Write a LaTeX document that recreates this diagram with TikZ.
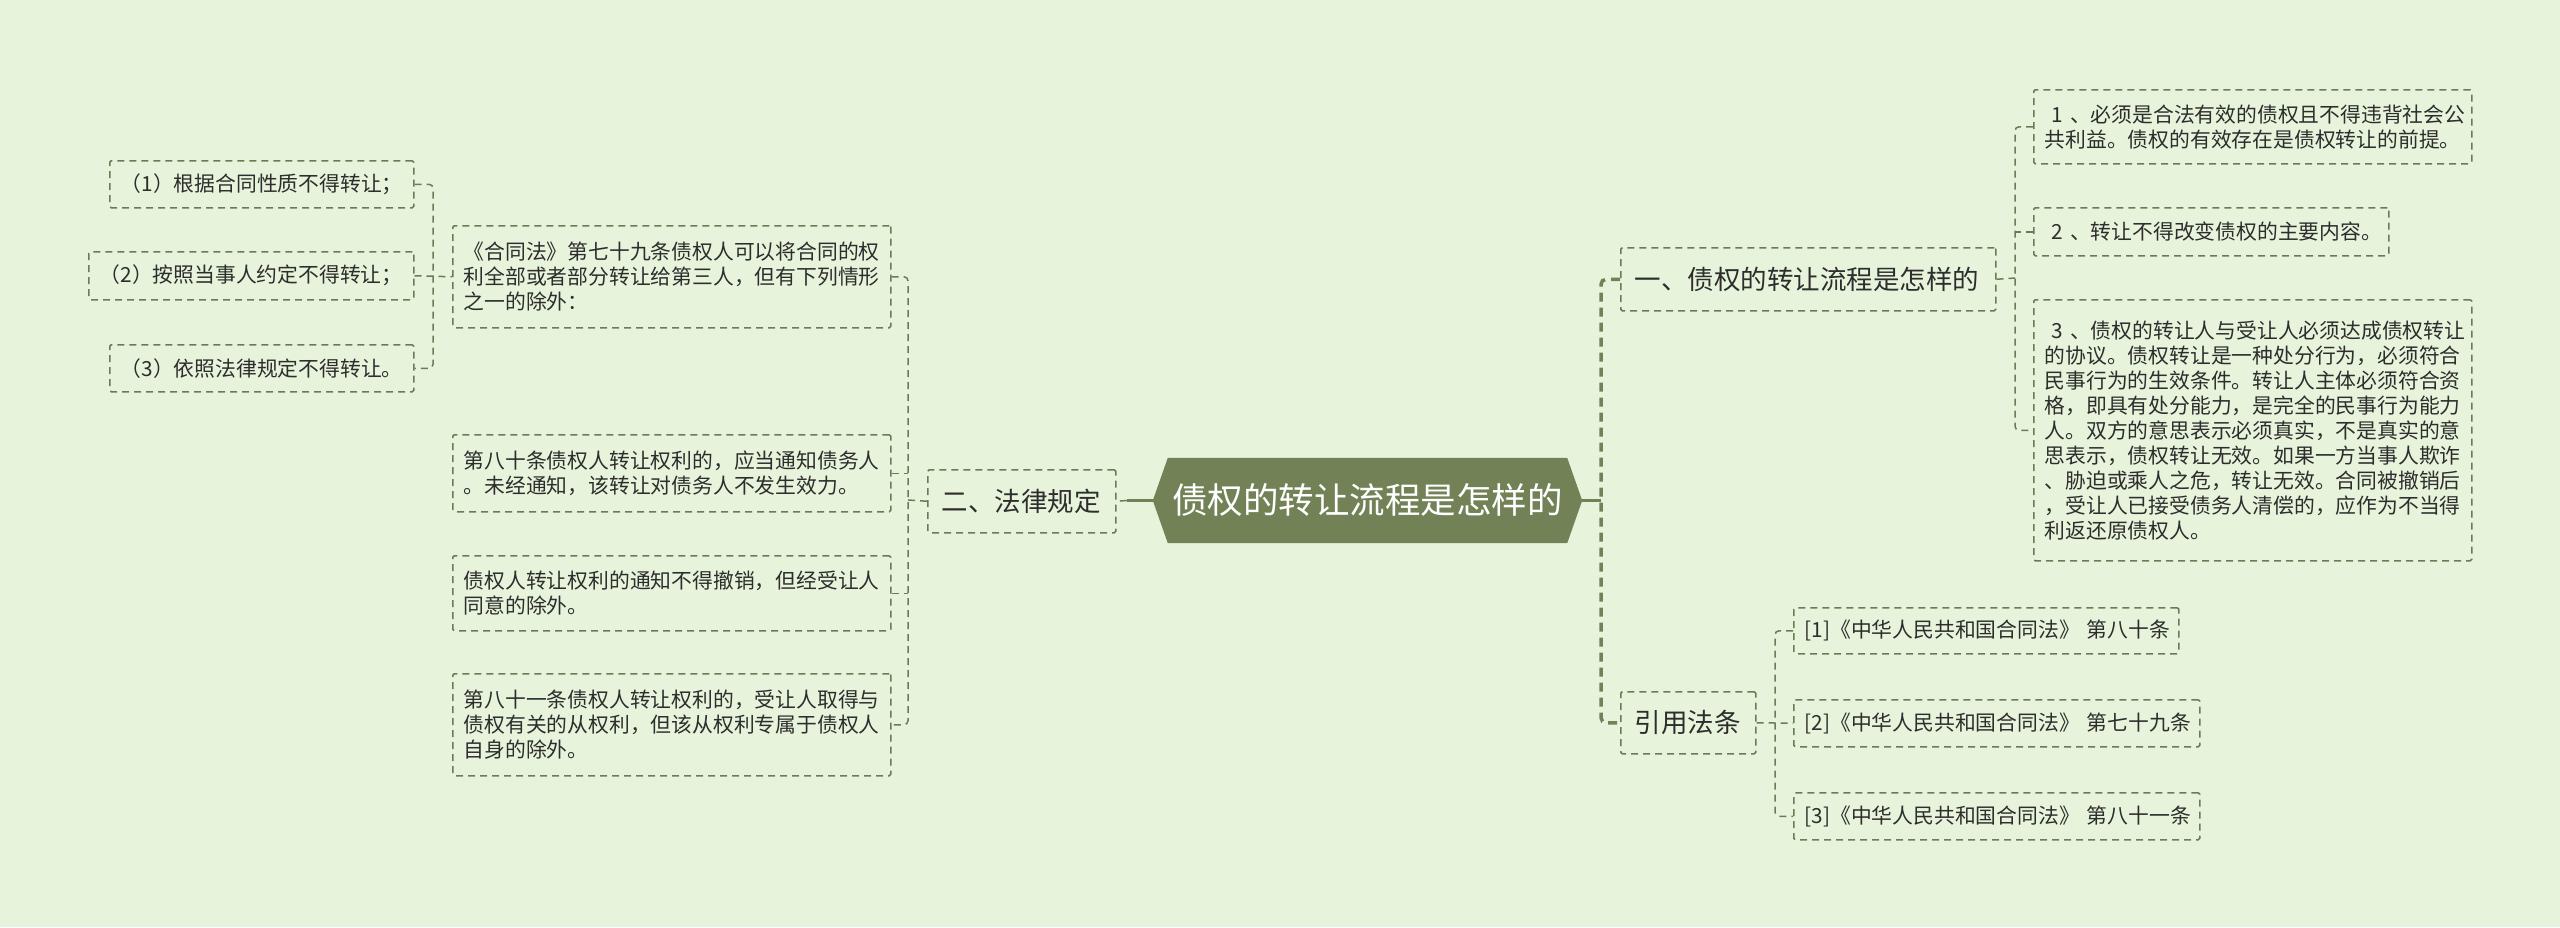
\documentclass[tikz,border=0pt]{standalone}
\usepackage{fontspec}
\newfontfamily\cjk{Noto Sans CJK SC}
\usetikzlibrary{calc}
\definecolor{bg}{HTML}{E7F4DB}
\definecolor{hexc}{HTML}{728256}
\definecolor{linec}{HTML}{6B7B56}
\definecolor{txt}{HTML}{2D2D2D}
\begin{document}
\begin{tikzpicture}[x=1pt,y=-1pt,
 leaf/.style={draw=linec, line width=1.5pt, dash pattern=on 7pt off 5pt, rounded corners=1.5pt, font=\cjk\fontsize{20.8}{25}\selectfont, text=txt, inner xsep=11pt, inner ysep=0pt, align=left, anchor=north west},
 topic/.style={leaf, font=\cjk\fontsize{26.5}{30}\selectfont, inner xsep=14pt},
 conn/.style={draw=linec, line width=1.5pt, dash pattern=on 7pt off 5pt, rounded corners=4pt},
 trunk/.style={draw=hexc, line width=3.5pt, dash pattern=on 9pt off 6pt, rounded corners=5pt},
 solidc/.style={draw=hexc, line width=3pt}
]
\fill[bg] (0,0) rectangle (2560,927);
\useasboundingbox (0,0) rectangle (2560,927);

% left leaves
\node[leaf, text width=282pt, minimum height=47pt] (i1) at (109,160) {（1）根据合同性质不得转让；};
\node[leaf, text width=303pt, minimum height=48pt] (i2) at (88,251) {（2）按照当事人约定不得转让；};
\node[leaf, text width=282pt, minimum height=47pt] (i3) at (109,344) {（3）依照法律规定不得转让。};
\node[leaf, text width=416pt, minimum height=102pt] (a79) at (452,225) {《合同法》第七十九条债权人可以将合同的权\\利全部或者部分转让给第三人，但有下列情形\\之一的除外：};
\node[leaf, text width=416pt, minimum height=77pt] (a80) at (452,434) {第八十条债权人转让权利的，应当通知债务人\\。未经通知，该转让对债务人不发生效力。};
\node[leaf, text width=416pt, minimum height=75pt] (an) at (452,555) {债权人转让权利的通知不得撤销，但经受让人\\同意的除外。};
\node[leaf, text width=416pt, minimum height=102pt] (a81) at (452,673) {第八十一条债权人转让权利的，受让人取得与\\债权有关的从权利，但该从权利专属于债权人\\自身的除外。};
\node[topic, text width=160pt, minimum height=63pt] (law) at (927,469) {二、法律规定};

% root
\node[minimum width=429pt, minimum height=85pt, inner sep=0pt] (root) at (1367.5,500.5) {};
\fill[hexc] (root.west) -- ([xshift=15pt]root.north west) -- ([xshift=-15pt]root.north east) -- (root.east) -- ([xshift=-15pt]root.south east) -- ([xshift=15pt]root.south west) -- cycle;
\node[font=\cjk\fontsize{35.5}{40}\selectfont, text=white, inner sep=0pt] (roottext) at (root.center) {债权的转让流程是怎样的};

% right side
\node[topic, text width=347pt, minimum height=63pt] (one) at (1620,247) {一、债权的转让流程是怎样的};
\node[leaf, text width=416pt, minimum height=74pt] (r1) at (2033,89) {\ 1 、必须是合法有效的债权且不得违背社会公\\共利益。债权的有效存在是债权转让的前提。};
\node[leaf, text width=333pt, minimum height=48pt] (r2) at (2033,207) {\ 2 、转让不得改变债权的主要内容。};
\node[leaf, text width=416pt, minimum height=261pt] (r3) at (2033,299) {\ 3 、债权的转让人与受让人必须达成债权转让\\的协议。债权转让是一种处分行为，必须符合\\民事行为的生效条件。转让人主体必须符合资\\格，即具有处分能力，是完全的民事行为能力\\人。双方的意思表示必须真实，不是真实的意\\思表示，债权转让无效。如果一方当事人欺诈\\、胁迫或乘人之危，转让无效。合同被撤销后\\，受让人已接受债务人清偿的，应作为不当得\\利返还原债权人。};
\node[topic, text width=107pt, minimum height=62pt] (cite) at (1620,691) {引用法条};
\node[leaf, text width=363pt, minimum height=46pt] (c1) at (1793,607) {[1]《中华人民共和国合同法》~第八十条};
\node[leaf, text width=384pt, minimum height=47pt] (c2) at (1793,699) {[2]《中华人民共和国合同法》~第七十九条};
\node[leaf, text width=384pt, minimum height=47pt] (c3) at (1793,792) {[3]《中华人民共和国合同法》~第八十一条};

% connectors left
\coordinate (jL) at (433,275);
\draw[conn] (i1.east) -| (jL) |- (i3.east);
\draw[conn] (i2.east) -- (a79.west);
\coordinate (jM) at (908,500);
\draw[conn] (a79.east) -| (jM) |- (a81.east);
\draw[conn] (a80.east) -- (a80.east -| jM);
\draw[conn] (an.east) -- (an.east -| jM);
\draw[conn] (law.west) -- (jM);
\draw[solidc] (root.west) -- ++(-26,0) coordinate (jS);
\draw[conn] (jS) -- (law.east);

% connectors right
\coordinate (jR) at (1601,500.5);
\draw[solidc] (root.east) -- (jR);
\draw[trunk] (one.west) -| (jR) |- (cite.west);
\coordinate (jO) at (2015,278);
\draw[conn] (r1.west) -| (jO) |- (r3.west);
\draw[conn] (r2.west) -- (r2.west -| jO);
\draw[conn] (one.east) -- (jO);
\coordinate (jC) at (1775,722);
\draw[conn] (c1.west) -| (jC) |- (c3.west);
\draw[conn] (cite.east) -- (c2.west);
\end{tikzpicture}
\end{document}
